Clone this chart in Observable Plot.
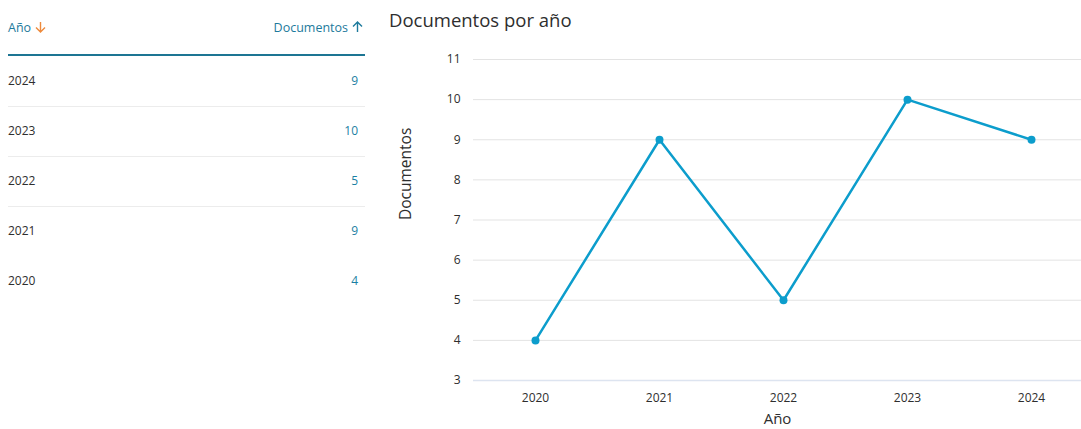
<!DOCTYPE html>
<html>
<head>
<meta charset="utf-8">
<script src="https://cdn.jsdelivr.net/npm/d3@7"></script>
<script src="https://cdn.jsdelivr.net/npm/@observablehq/plot@0.6"></script>
<style>
  html, body { margin: 0; padding: 0; background: #fff; width: 1081px; height: 429px; overflow: hidden; font-family: "Open Sans", sans-serif; }
  #table { position: absolute; left: 8px; top: 0; width: 357px; font-size: 12px; color: #2e2e2e; }
  .hdr { position: absolute; left: 0; top: 0; width: 357px; height: 54px; border-bottom: 2px solid #1d7593; }
  .hdr > span { position: absolute; top: 19px; line-height: 18px; color: #1d7a9c; font-size: 12.5px; }
  .arr { display: inline-block; vertical-align: -1px; margin-left: 4px; }
  .row { position: absolute; left: 0; width: 357px; height: 50px; }
  .row .y { position: absolute; left: 0; top: 16px; line-height: 18px; }
  .row .v { position: absolute; right: 7px; top: 16px; line-height: 18px; color: #1b7fa3; }
  .row.sep { border-bottom: 1px solid #ececec; }
  #title { position: absolute; left: 389px; top: 8px; font-size: 18.5px; color: #2e2e2e; line-height: 24px; }
  #chart { position: absolute; left: 380px; top: 40px; }
</style>
</head>
<body>
<div id="table"></div>
<div id="title">Documentos por año</div>
<div id="chart"></div>
<script>
const years = ["2020", "2021", "2022", "2023", "2024"];
const documentos = [4, 9, 5, 10, 9];
const yTicks = [3, 4, 5, 6, 7, 8, 9, 10, 11];
const xLabel = "Año";
const yLabel = "Documentos";

// table
const arrowDown = (c) => `<svg class="arr" width="11" height="12" viewBox="0 0 11 12"><path d="M5.5 1 V11 M1 6.5 L5.5 11 L10 6.5" fill="none" stroke="${c}" stroke-width="1.4"/></svg>`;
const arrowUp = (c) => `<svg class="arr" width="11" height="12" viewBox="0 0 11 12"><path d="M5.5 11 V1 M1 5.5 L5.5 1 L10 5.5" fill="none" stroke="${c}" stroke-width="1.4"/></svg>`;
const table = document.getElementById("table");
const hdr = document.createElement("div");
hdr.className = "hdr";
hdr.innerHTML = `<span style="left:0">Año${arrowDown("#ee8a3c")}</span>` +
  `<span style="right:2px">Documentos${arrowUp("#1d7a9c")}</span>`;
table.appendChild(hdr);
const rows = years.map((y, i) => ({year: y, docs: documentos[i]})).reverse();
rows.forEach((r, i) => {
  const d = document.createElement("div");
  d.className = "row" + (i < 3 ? " sep" : "");
  d.style.top = (56 + i * 50) + "px";
  d.innerHTML = `<span class="y">${r.year}</span><span class="v">${r.docs}</span>`;
  table.appendChild(d);
});

// chart
const data = years.map((y, i) => ({year: y, value: documentos[i]}));
const color = "#0c9dcc";
const chart = Plot.plot({
  width: 701,
  height: 389,
  marginLeft: 93,
  marginRight: 0,
  marginTop: 19,
  marginBottom: 49,
  style: { fontFamily: "Open Sans, sans-serif", fontSize: "12px", color: "#2e2e2e", background: "#fff" },
  x: { type: "point", domain: years, range: [155, 651], padding: 0 },
  y: { domain: [3, 11], ticks: yTicks },
  marks: [
    Plot.gridY(yTicks.filter(t => t !== 3), { stroke: "#e3e3e3", strokeOpacity: 1, strokeWidth: 1 }),
    Plot.ruleY([3], { stroke: "#dde4f0", strokeWidth: 1.5 }),
    Plot.axisY(yTicks, { tickSize: 0, tickPadding: 13, label: null, fill: "#2e2e2e" }),
    Plot.axisX(years, { tickSize: 0, tickPadding: 13, label: null, fill: "#2e2e2e" }),
    Plot.text([yLabel], { frameAnchor: "left", dx: -67, rotate: -90, fontSize: 15.5, fill: "#2e2e2e" }),
    Plot.text([xLabel], { frameAnchor: "bottom", dy: 43, fontSize: 15, fill: "#2e2e2e" }),
    Plot.line(data, { x: "year", y: "value", stroke: color, strokeWidth: 2.5 }),
    Plot.dot(data, { x: "year", y: "value", fill: color, r: 4 })
  ]
});
document.getElementById("chart").appendChild(chart);
</script>
</body>
</html>
